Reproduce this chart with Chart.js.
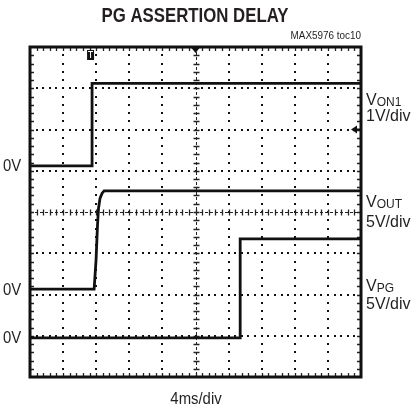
<!DOCTYPE html>
<html>
<head>
<meta charset="utf-8">
<script src="https://cdn.jsdelivr.net/npm/chart.js@4.4.0/dist/chart.umd.min.js"></script>
<style>
  html, body { margin: 0; padding: 0; background: #fff; }
  #wrap { width: 412px; height: 411px; position: relative; }
</style>
</head>
<body>
<div id="wrap"><canvas id="scope"></canvas></div>
<script>
// scope settings: 4ms/div, 10 x 8 divisions
const xDivs = 10, yDivs = 8, msPerDiv = 4;

// V_ON1 (1V/div)
const on1Time = [0, 7.5, 7.5, 40];
const on1Volts = [0, 0, 2.0, 2.0];
// V_OUT (5V/div)
const outTime = [0, 7.75, 7.98, 8.16, 8.28, 8.46, 8.7, 8.95, 40];
const outVolts = [0, 0, 3.5, 7.8, 9.8, 11.0, 11.6, 11.9, 11.9];
// V_PG (5V/div)
const pgTime = [0, 25.4, 25.4, 40];
const pgVolts = [0, 0, 12.0, 12.0];

// ground marker level (div) and volts per div of each channel
const channels = [
  { time: on1Time, volts: on1Volts, ground: 5.12, vPerDiv: 1 },
  { time: outTime, volts: outVolts, ground: 2.13, vPerDiv: 5 },
  { time: pgTime, volts: pgVolts, ground: 0.95, vPerDiv: 5 }
];

const font = "'Liberation Sans Narrow', 'Liberation Sans', Arial, sans-serif";

function toPoints(ch) {
  return ch.time.map((t, i) => ({ x: t, y: ch.ground + ch.volts[i] / ch.vPerDiv }));
}

// squeezed text, the original uses a condensed face
function narrowText(c, txt, x, y, sx) {
  c.save();
  c.translate(x, y);
  c.scale(sx, 1);
  c.fillText(txt, 0, 0);
  c.restore();
}

// graticule, border, markers and labels
const scopePlugin = {
  id: 'scope',
  beforeDatasetsDraw(chart) {
    const c = chart.ctx, xs = chart.scales.x, ys = chart.scales.y;
    const X = v => xs.getPixelForValue(v * msPerDiv);
    const Y = v => ys.getPixelForValue(v);
    c.save();
    c.fillStyle = '#111';
    // dotted major lines
    for (let i = 1; i < xDivs; i++) {
      if (i === xDivs / 2) continue;
      for (let j = 0; j <= yDivs * 5; j++) {
        c.fillRect(Math.round(X(i)) - 1, Math.round(Y(j / 5)) - 1, 2, 2);
      }
    }
    for (let j = 1; j < yDivs; j++) {
      if (j === yDivs / 2) continue;
      for (let i = 0; i <= xDivs * 5; i++) {
        c.fillRect(Math.round(X(i / 5)) - 1, Math.round(Y(j)) - 1, 2, 2);
      }
    }
    // centre lines with ticks
    c.strokeStyle = '#222';
    c.lineWidth = 1;
    const cx = Math.round(X(xDivs / 2)) + 0.5, cy = Math.round(Y(yDivs / 2)) + 0.5;
    c.setLineDash([3, 2]);
    c.beginPath();
    c.moveTo(cx, Y(yDivs)); c.lineTo(cx, Y(0));
    c.moveTo(X(0), cy); c.lineTo(X(xDivs), cy);
    c.stroke();
    c.setLineDash([]);
    c.lineWidth = 1.3;
    c.beginPath();
    for (let j = 1; j < yDivs * 5; j++) {
      const y = Math.round(Y(j / 5)) + 0.5;
      c.moveTo(cx - 3, y); c.lineTo(cx + 3, y);
    }
    for (let i = 1; i < xDivs * 5; i++) {
      const x = Math.round(X(i / 5)) + 0.5;
      c.moveTo(x, cy - 3); c.lineTo(x, cy + 3);
    }
    // border minor ticks
    for (let i = 1; i < xDivs * 5; i++) {
      const x = Math.round(X(i / 5)) + 0.5;
      c.moveTo(x, Y(yDivs)); c.lineTo(x, Y(yDivs) + 4);
      c.moveTo(x, Y(0)); c.lineTo(x, Y(0) - 4);
    }
    for (let j = 1; j < yDivs * 5; j++) {
      const y = Math.round(Y(j / 5)) + 0.5;
      c.moveTo(X(0), y); c.lineTo(X(0) + 4, y);
      c.moveTo(X(xDivs), y); c.lineTo(X(xDivs) - 4, y);
    }
    c.stroke();
    c.restore();
  },
  afterDraw(chart) {
    const c = chart.ctx, xs = chart.scales.x, ys = chart.scales.y;
    const X = v => xs.getPixelForValue(v * msPerDiv);
    const Y = v => ys.getPixelForValue(v);
    c.save();
    // border
    c.strokeStyle = '#111';
    c.lineWidth = 3;
    c.strokeRect(X(0), Y(yDivs), X(xDivs) - X(0), Y(0) - Y(yDivs));
    // trigger marker
    c.fillStyle = '#111';
    const tx = xs.getPixelForValue(on1Time[1]) - 2;
    c.fillRect(tx - 3, Y(yDivs) + 3, 7, 10);
    c.fillStyle = '#fff';
    c.fillRect(tx - 2, Y(yDivs) + 4, 5, 1);
    c.fillRect(tx, Y(yDivs) + 4, 1, 7);
    // top centre marker
    c.fillStyle = '#111';
    const mx = X(xDivs / 2);
    c.beginPath();
    c.moveTo(mx - 4, Y(yDivs) + 1); c.lineTo(mx + 4, Y(yDivs) + 1); c.lineTo(mx, Y(yDivs) + 6);
    c.fill();
    // right-side arrow
    const ay = Y(6);
    c.beginPath();
    c.moveTo(X(xDivs) - 10, ay); c.lineTo(X(xDivs) - 4, ay - 4); c.lineTo(X(xDivs) - 4, ay + 4);
    c.fill();
    c.fillRect(X(xDivs) - 6, ay - 1, 5, 2);

    // text
    c.fillStyle = '#231f20';
    c.textBaseline = 'middle';
    c.textAlign = 'center';
    c.font = 'bold 21px ' + font;
    narrowText(c, 'PG ASSERTION DELAY', 195, 16, 0.8);
    c.font = '11px ' + font;
    c.textAlign = 'right';
    narrowText(c, 'MAX5976 toc10', X(xDivs), 36, 0.9);
    c.textAlign = 'center';
    c.font = '16px ' + font;
    narrowText(c, msPerDiv + 'ms/div', 196, 400, 0.93);
    c.textAlign = 'left';
    channels.forEach(ch => narrowText(c, '0V', 3, Y(ch.ground) + 1, 0.93));

    const names = [['V', 'ON1', '1V/div', 101, 117], ['V', 'OUT', '5V/div', 203, 223], ['V', 'PG', '5V/div', 287, 305]];
    const lx = 366;
    names.forEach(n => {
      c.font = '16px ' + font;
      c.fillText(n[0], lx, n[3]);
      const w = c.measureText(n[0]).width;
      c.font = '12px ' + font;
      c.fillText(n[1], lx + w, n[3] + 2);
      c.font = '16px ' + font;
      c.fillText(n[2], lx, n[4]);
    });
    c.restore();
  }
};

new Chart(document.getElementById('scope'), {
  type: 'line',
  data: {
    datasets: channels.map(ch => ({
      data: toPoints(ch),
      borderColor: '#111',
      borderWidth: 2.8,
      pointRadius: 0,
      tension: 0,
      fill: false
    }))
  },
  options: {
    responsive: true,
    maintainAspectRatio: false,
    animation: false,
    layout: { padding: { left: 30, right: 51, top: 47, bottom: 34 } },
    plugins: { legend: { display: false }, tooltip: { enabled: false } },
    scales: {
      x: { type: 'linear', min: 0, max: xDivs * msPerDiv, display: false },
      y: { type: 'linear', min: 0, max: yDivs, display: false }
    }
  },
  plugins: [scopePlugin]
});
</script>
</body>
</html>
